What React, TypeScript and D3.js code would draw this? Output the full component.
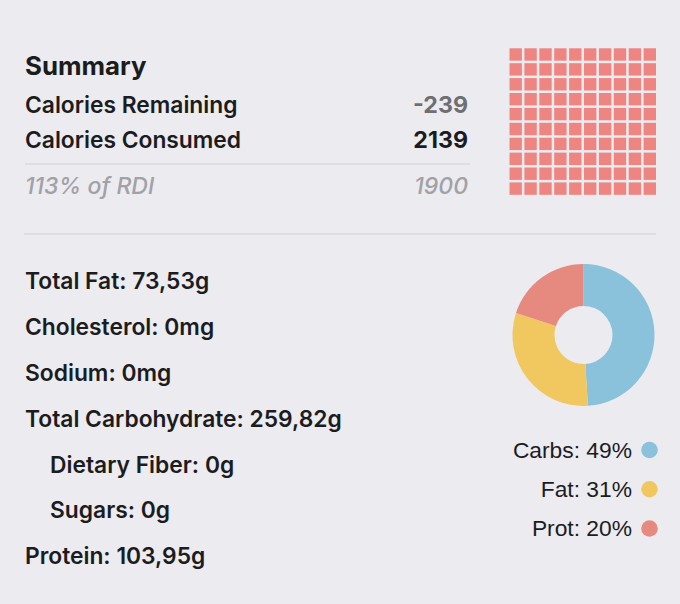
import React from "react";
import * as d3 from "d3";

const summaryRows = ["Calories Remaining", "Calories Consumed"];
const summaryValues = [-239, 2139];
const rdiPercent = 113;
const rdiValue = 1900;
const consumed = 2139;

const nutrientLabels = [
  "Total Fat",
  "Cholesterol",
  "Sodium",
  "Total Carbohydrate",
  "Dietary Fiber",
  "Sugars",
  "Protein",
];
const nutrientValues = ["73,53g", "0mg", "0mg", "259,82g", "0g", "0g", "103,95g"];
const nutrientIndent = [0, 0, 0, 0, 1, 1, 0];

const macroLabels = ["Carbs", "Fat", "Prot"];
const macroPercents = [49, 31, 20];
const macroColors = ["#89c2da", "#f1c75f", "#e68a80"];

const W = 680;
const H = 604;
const BG = "#ebebf0";
const TEXT = "#1c1c1e";
const FONT = "Inter, 'Noto Sans', sans-serif";
const FS = 22.8;
const FW = 560;

export default function App() {
  // waffle
  const cells = d3.range(100);
  const filled = Math.min(100, Math.round((consumed / rdiValue) * 100));
  const wx = d3.scaleBand<number>().domain(d3.range(10)).range([509.5, 656]).paddingInner(0.17);
  const wy = d3.scaleBand<number>().domain(d3.range(10)).range([48.3, 194.8]).paddingInner(0.17);

  // donut
  const pie = d3.pie<number>().sort(null).value((d) => d);
  const arcs = pie(macroPercents);
  const arc = d3.arc<d3.PieArcDatum<number>>().innerRadius(29).outerRadius(71);
  const cx = 583.5;
  const cy = 335;

  // rows
  const rowY = d3.scaleLinear().domain([0, 6]).range([289.3, 564.3]);
  const legY = d3.scaleLinear().domain([0, 2]).range([450, 528.5]);

  return (
    <svg width={W} height={H} style={{ position: "absolute", left: 0, top: 0, background: BG }}>
      <rect x={0} y={0} width={W} height={H} fill={BG} />
      <text x={25} y={75} fontFamily={FONT} fontWeight={700} fontSize={25.8} fill={TEXT}>
        Summary
      </text>
      {summaryRows.map((r, i) => (
        <g key={r}>
          <text x={25} y={112.7 + i * 35.6} fontFamily={FONT} fontWeight={FW} fontSize={FS} fill={TEXT}>
            {r}
          </text>
          <text
            x={468}
            y={112.7 + i * 35.6}
            textAnchor="end"
            fontFamily={FONT}
            fontWeight={700}
            fontSize={23.2}
            fill={i === 0 ? "#6e6e73" : TEXT}
          >
            {summaryValues[i]}
          </text>
        </g>
      ))}
      <line x1={25} x2={470} y1={164} y2={164} stroke="#d1d1d6" strokeWidth={1.2} />
      <text x={25} y={194.3} fontFamily={FONT} fontStyle="italic" fontWeight={500} fontSize={23} fill="#a1a1a6">
        {rdiPercent}% of RDI
      </text>
      <text
        x={468}
        y={194.3}
        textAnchor="end"
        fontFamily={FONT}
        fontStyle="italic"
        fontWeight={500}
        fontSize={23}
        fill="#a1a1a6"
      >
        {rdiValue}
      </text>

      {cells.map((i) => (
        <rect
          key={i}
          x={wx(i % 10)}
          y={wy(Math.floor(i / 10))}
          width={wx.bandwidth()}
          height={wy.bandwidth()}
          fill={i < filled ? "#ef8581" : "#d8d8dd"}
        />
      ))}

      <line x1={24} x2={656} y1={234} y2={234} stroke="#d1d1d6" strokeWidth={1.2} />

      {nutrientLabels.map((l, i) => (
        <text
          key={l}
          x={nutrientIndent[i] ? 50 : 25}
          y={rowY(i)}
          fontFamily={FONT}
          fontWeight={FW}
          fontSize={FS}
          fill={TEXT}
        >
          {l}: {nutrientValues[i]}
        </text>
      ))}

      <g transform={`translate(${cx},${cy})`}>
        {arcs.map((a, i) => (
          <path key={i} d={arc(a) || ""} fill={macroColors[i]} />
        ))}
      </g>

      {macroLabels.map((l, i) => (
        <g key={l}>
          <text
            x={632}
            y={legY(i) + 7.5}
            textAnchor="end"
            fontFamily="'Liberation Sans', Arial, sans-serif"
            fontSize={22.8}
            fill={TEXT}
          >
            {l}: {macroPercents[i]}%
          </text>
          <circle cx={649.5} cy={legY(i)} r={8.3} fill={macroColors[i]} />
        </g>
      ))}
    </svg>
  );
}
